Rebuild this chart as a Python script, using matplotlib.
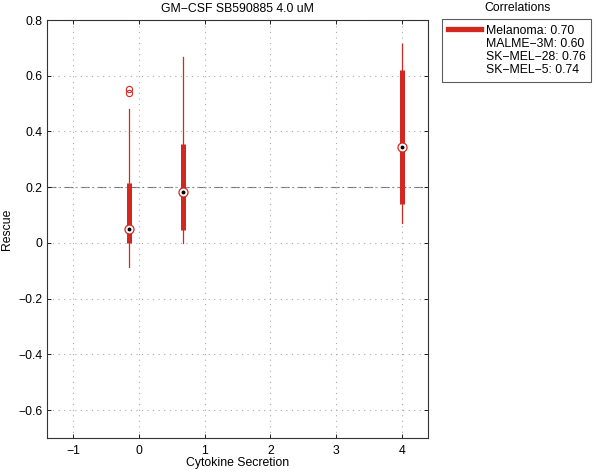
import matplotlib
matplotlib.use("Agg")
import matplotlib.pyplot as plt
from matplotlib.lines import Line2D

# Data
positions = [-0.15, 0.67, 4.0]
whisk_lo = [-0.087, 0.001, 0.073]
q1 = [0.001, 0.047, 0.14]
medians = [0.049, 0.182, 0.345]
q3 = [0.214, 0.355, 0.62]
whisk_hi = [0.48, 0.667, 0.714]
outlier_x = [-0.15, -0.15]
outlier_y = [0.551, 0.537]
ref_level = 0.2
legend_labels = ["Melanoma: 0.70", "MALME\u22123M: 0.60", "SK\u2212MEL\u221228: 0.76", "SK\u2212MEL\u22125: 0.74"]
title = "GM\u2212CSF SB590885 4.0 uM"
xticks = [-1, 0, 1, 2, 3, 4]
yticks = [-0.6, -0.4, -0.2, 0, 0.2, 0.4, 0.6, 0.8]

plt.rcParams['font.family'] = ['Liberation Sans', 'DejaVu Sans']
red = "#d2281f"
fs = 8.8

fig = plt.figure(figsize=(5.97, 4.76), dpi=100)
ax = fig.add_axes([47/597, 38/476, (428-47)/597, (438-20)/476])

ax.set_xlim(-1.4, 4.4)
ax.set_ylim(-0.7, 0.8)
ax.grid(True, color="#aaaaaa", linestyle=(0, (1, 4)), linewidth=0.8)
ax.axhline(ref_level, color="#777777", linestyle=(0, (8, 3, 1, 3)), linewidth=0.8, zorder=1)

for x, wl, a, m, b, wh in zip(positions, whisk_lo, q1, medians, q3, whisk_hi):
    ax.plot([x, x], [wl, wh], color=red, linewidth=0.9, zorder=2)
    ax.plot([x, x], [a, b], color=red, linewidth=3.6, solid_capstyle="butt", zorder=3)
    ax.plot([x], [m], marker="o", markersize=6.5, markerfacecolor="white",
            markeredgecolor=red, markeredgewidth=0.9, zorder=4)
    ax.plot([x], [m], marker="o", markersize=1.8, color="black", zorder=5)

ax.plot(outlier_x, outlier_y, linestyle="none", marker="o", markersize=4.5,
        markerfacecolor="none", markeredgecolor=red, markeredgewidth=0.8, zorder=4)

ax.set_xticks(xticks)
ax.set_xticklabels(["\u22121" if t == -1 else str(t) for t in xticks])
ax.set_yticks(yticks)
ax.set_yticklabels([("\u2212" + f"{abs(t):.1f}") if t < 0 else ("0" if t == 0 else f"{t:.1f}") for t in yticks])
ax.tick_params(direction="in", length=3, labelsize=fs, top=True, right=True, width=0.6)
ax.tick_params(axis="x", pad=5)
ax.tick_params(axis="y", pad=3)
for s in ax.spines.values():
    s.set_linewidth(0.8)
    s.set_color("#333333")

ax.set_title(title, fontsize=fs, pad=6)
ax.set_xlabel("Cytokine Secretion", fontsize=fs, labelpad=0)
ax.set_ylabel("Rescue", fontsize=fs, labelpad=4)

handles = [Line2D([0], [0], color=red, linewidth=3.8)] + [Line2D([0], [0], color="none") for _ in legend_labels[1:]]
leg = fig.legend(handles, legend_labels, loc="upper left", bbox_to_anchor=(442/597, 1 - 19/476),
                 borderaxespad=0, fontsize=fs, frameon=True, fancybox=False, edgecolor="#333333",
                 handlelength=2.7, handletextpad=0.45, borderpad=0.45, labelspacing=0.1)
leg.get_frame().set_linewidth(0.8)
fig.text(518/597, 1 - 8/476, "Correlations", fontsize=fs, ha="center", va="center")

fig.savefig("out.png", dpi=100)
